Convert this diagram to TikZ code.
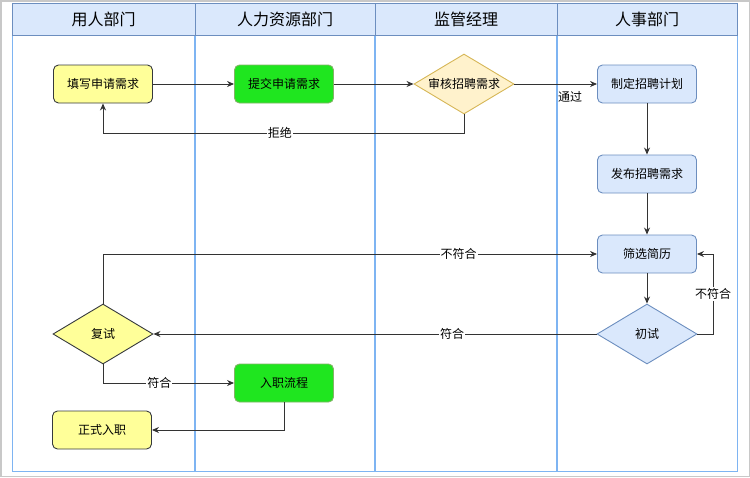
\documentclass[tikz,border=0pt]{standalone}
\usepackage{fontspec}
\setmainfont{Noto Sans CJK SC}
\usetikzlibrary{shapes.geometric,arrows.meta}
\definecolor{hdrfill}{HTML}{DAE8FC}
\definecolor{hdrline}{HTML}{6C8EBF}
\definecolor{laneline}{HTML}{7EB4F2}
\definecolor{yfill}{HTML}{FFFF99}
\definecolor{yline}{HTML}{36393D}
\definecolor{gfill}{HTML}{1FE61F}
\definecolor{gline}{HTML}{82B366}
\definecolor{bfill}{HTML}{DAE8FC}
\definecolor{bline}{HTML}{6C8EBF}
\definecolor{ofill}{HTML}{FFF2CC}
\definecolor{oline}{HTML}{D6B656}
\definecolor{edge}{HTML}{333333}
\definecolor{imgframe}{HTML}{C8C8C8}
\tikzset{
  proc/.style={rounded corners=5pt, minimum width=99pt, minimum height=38pt, inner sep=0pt, line width=0.9pt, font=\fontsize{12}{14}\selectfont},
  ybox/.style={proc, fill=yfill, draw=yline},
  gbox/.style={proc, fill=gfill, draw=gline},
  bbox/.style={proc, fill=bfill, draw=bline},
  dec/.style={diamond, aspect=1.667, minimum width=100pt, minimum height=60pt, inner sep=0pt, line width=0.9pt, font=\fontsize{12}{14}\selectfont},
  arr/.style={draw=edge, line width=0.9pt, -{Stealth[length=7pt,width=6pt]}},
  lbl/.style={fill=white, inner sep=1pt, font=\fontsize{12}{14}\selectfont},
  hdr/.style={font=\fontsize{16}{18}\selectfont},
}
\begin{document}
\begin{tikzpicture}[x=1pt,y=-1pt]
\useasboundingbox (0,0) rectangle (750,477);
\draw[imgframe, line width=1.5pt] (0.75,0.75) rectangle (749.25,476.25);
% lanes
\draw[laneline, line width=1.2pt] (12.5,35) rectangle (737.5,471.5);
\foreach \xx in {195,375,557} \draw[laneline, line width=1.2pt] (\xx,35) -- (\xx,471.5);
\draw[hdrline, fill=hdrfill, line width=1pt] (12.5,3.5) rectangle (737.5,35);
\foreach \xx in {195,375,557} \draw[hdrline, line width=1pt] (\xx,3.5) -- (\xx,35);
\node[hdr] (h1) at (103.5,19) {用人部门};
\node[hdr] (h2) at (285,19) {人力资源部门};
\node[hdr] (h3) at (466,19) {监管经理};
\node[hdr] (h4) at (647,19) {人事部门};
% nodes
\node[ybox] (tianxie) at (103,84) {填写申请需求};
\node[gbox] (tijiao) at (284,84) {提交申请需求};
\node[dec, fill=ofill, draw=oline] (shenhe) at (464,84) {审核招聘需求};
\node[bbox] (zhiding) at (647,84) {制定招聘计划};
\node[bbox] (fabu) at (647,174) {发布招聘需求};
\node[bbox] (shaixuan) at (647,254) {筛选简历};
\node[dec, fill=bfill, draw=bline] (chushi) at (647,334) {初试};
\node[dec, fill=yfill, draw=yline] (fushi) at (103,334) {复试};
\node[gbox] (ruzhi) at (284,383) {入职流程};
\node[ybox] (zhengshi) at (102,430) {正式入职};
% connectors
\draw[arr] (tianxie) -- (tijiao);
\draw[arr] (tijiao) -- (shenhe);
\draw[arr] (shenhe) -- node[pos=0.675, yshift=-13pt, inner sep=0pt, font=\fontsize{12}{14}\selectfont] (tg) {通过} (zhiding);
\coordinate (r1) at (464,133);
\coordinate (r2) at (103,133);
\draw[arr] (shenhe.south) -- (r1) -- node[lbl, pos=0.51] (jj) {拒绝} (r2) -- (tianxie.south);
\draw[arr] (zhiding) -- (fabu);
\draw[arr] (fabu) -- (shaixuan);
\draw[arr] (shaixuan) -- (chushi);
\coordinate (n1) at (fushi.north |- shaixuan.west);
\draw[arr] (fushi.north) -- (n1) -- node[lbl, pos=0.72] (bf1) {不符合} (shaixuan.west);
\draw[arr] (chushi.west) -- node[lbl, pos=0.326] (fh1) {符合} (fushi.east);
\coordinate (c1) at (713,334);
\coordinate (c2) at (713,254);
\draw[arr] (chushi.east) -- (c1) -- node[lbl, pos=0.5] (bf2) {不符合} (c2) -- (shaixuan.east);
\coordinate (f1) at (fushi.south |- ruzhi.west);
\draw[arr] (fushi.south) -- (f1) -- node[lbl, pos=0.43] (fh2) {符合} (ruzhi.west);
\coordinate (z1) at (ruzhi.south |- zhengshi.east);
\draw[arr] (ruzhi.south) -- (z1) -- (zhengshi.east);
\end{tikzpicture}
\end{document}
